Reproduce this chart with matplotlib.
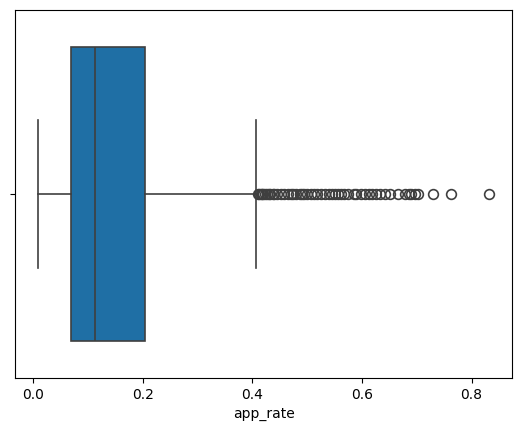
import matplotlib
matplotlib.use("Agg")
import matplotlib.pyplot as plt

# box statistics
label = ""
q1 = 0.069
median = 0.113
q3 = 0.204
whisker_low = 0.0086
whisker_high = 0.407
outliers = [
    0.410, 0.412, 0.415, 0.418, 0.420, 0.423, 0.426, 0.430, 0.433, 0.437,
    0.440, 0.445, 0.452, 0.458, 0.465, 0.470, 0.475, 0.480, 0.486, 0.490,
    0.495, 0.500, 0.507, 0.512, 0.518, 0.525, 0.533, 0.540, 0.545, 0.550,
    0.556, 0.562, 0.568, 0.575, 0.585, 0.590, 0.598, 0.605, 0.612, 0.618,
    0.625, 0.633, 0.642, 0.652, 0.665, 0.678, 0.685, 0.690, 0.697, 0.702,
    0.730, 0.763, 0.832,
]

stats = [{
    "label": label,
    "q1": q1,
    "med": median,
    "q3": q3,
    "whislo": whisker_low,
    "whishi": whisker_high,
    "fliers": outliers,
}]

fig = plt.figure(figsize=(5.2, 4.32), dpi=100)
ax = fig.add_axes([0.0298, 0.125, 0.954, 0.852])

line_color = "#3f3f3f"
ax.bxp(
    stats,
    positions=[0],
    widths=0.8,
    capwidths=0.4,
    vert=False,
    patch_artist=True,
    boxprops=dict(facecolor="#1f6fa5", edgecolor=line_color, linewidth=1.2),
    medianprops=dict(color=line_color, linewidth=1.2),
    whiskerprops=dict(color=line_color, linewidth=1.2),
    capprops=dict(color=line_color, linewidth=1.2),
    flierprops=dict(marker="o", markersize=7, markerfacecolor="none",
                    markeredgecolor=line_color, markeredgewidth=1.2),
)

ax.set_ylim(0.5, -0.5)
ax.set_yticks([0])
ax.set_yticklabels([label])
ax.margins(x=0.05)
ax.set_xlabel("app_rate")

fig.savefig("out.png", dpi=100)
